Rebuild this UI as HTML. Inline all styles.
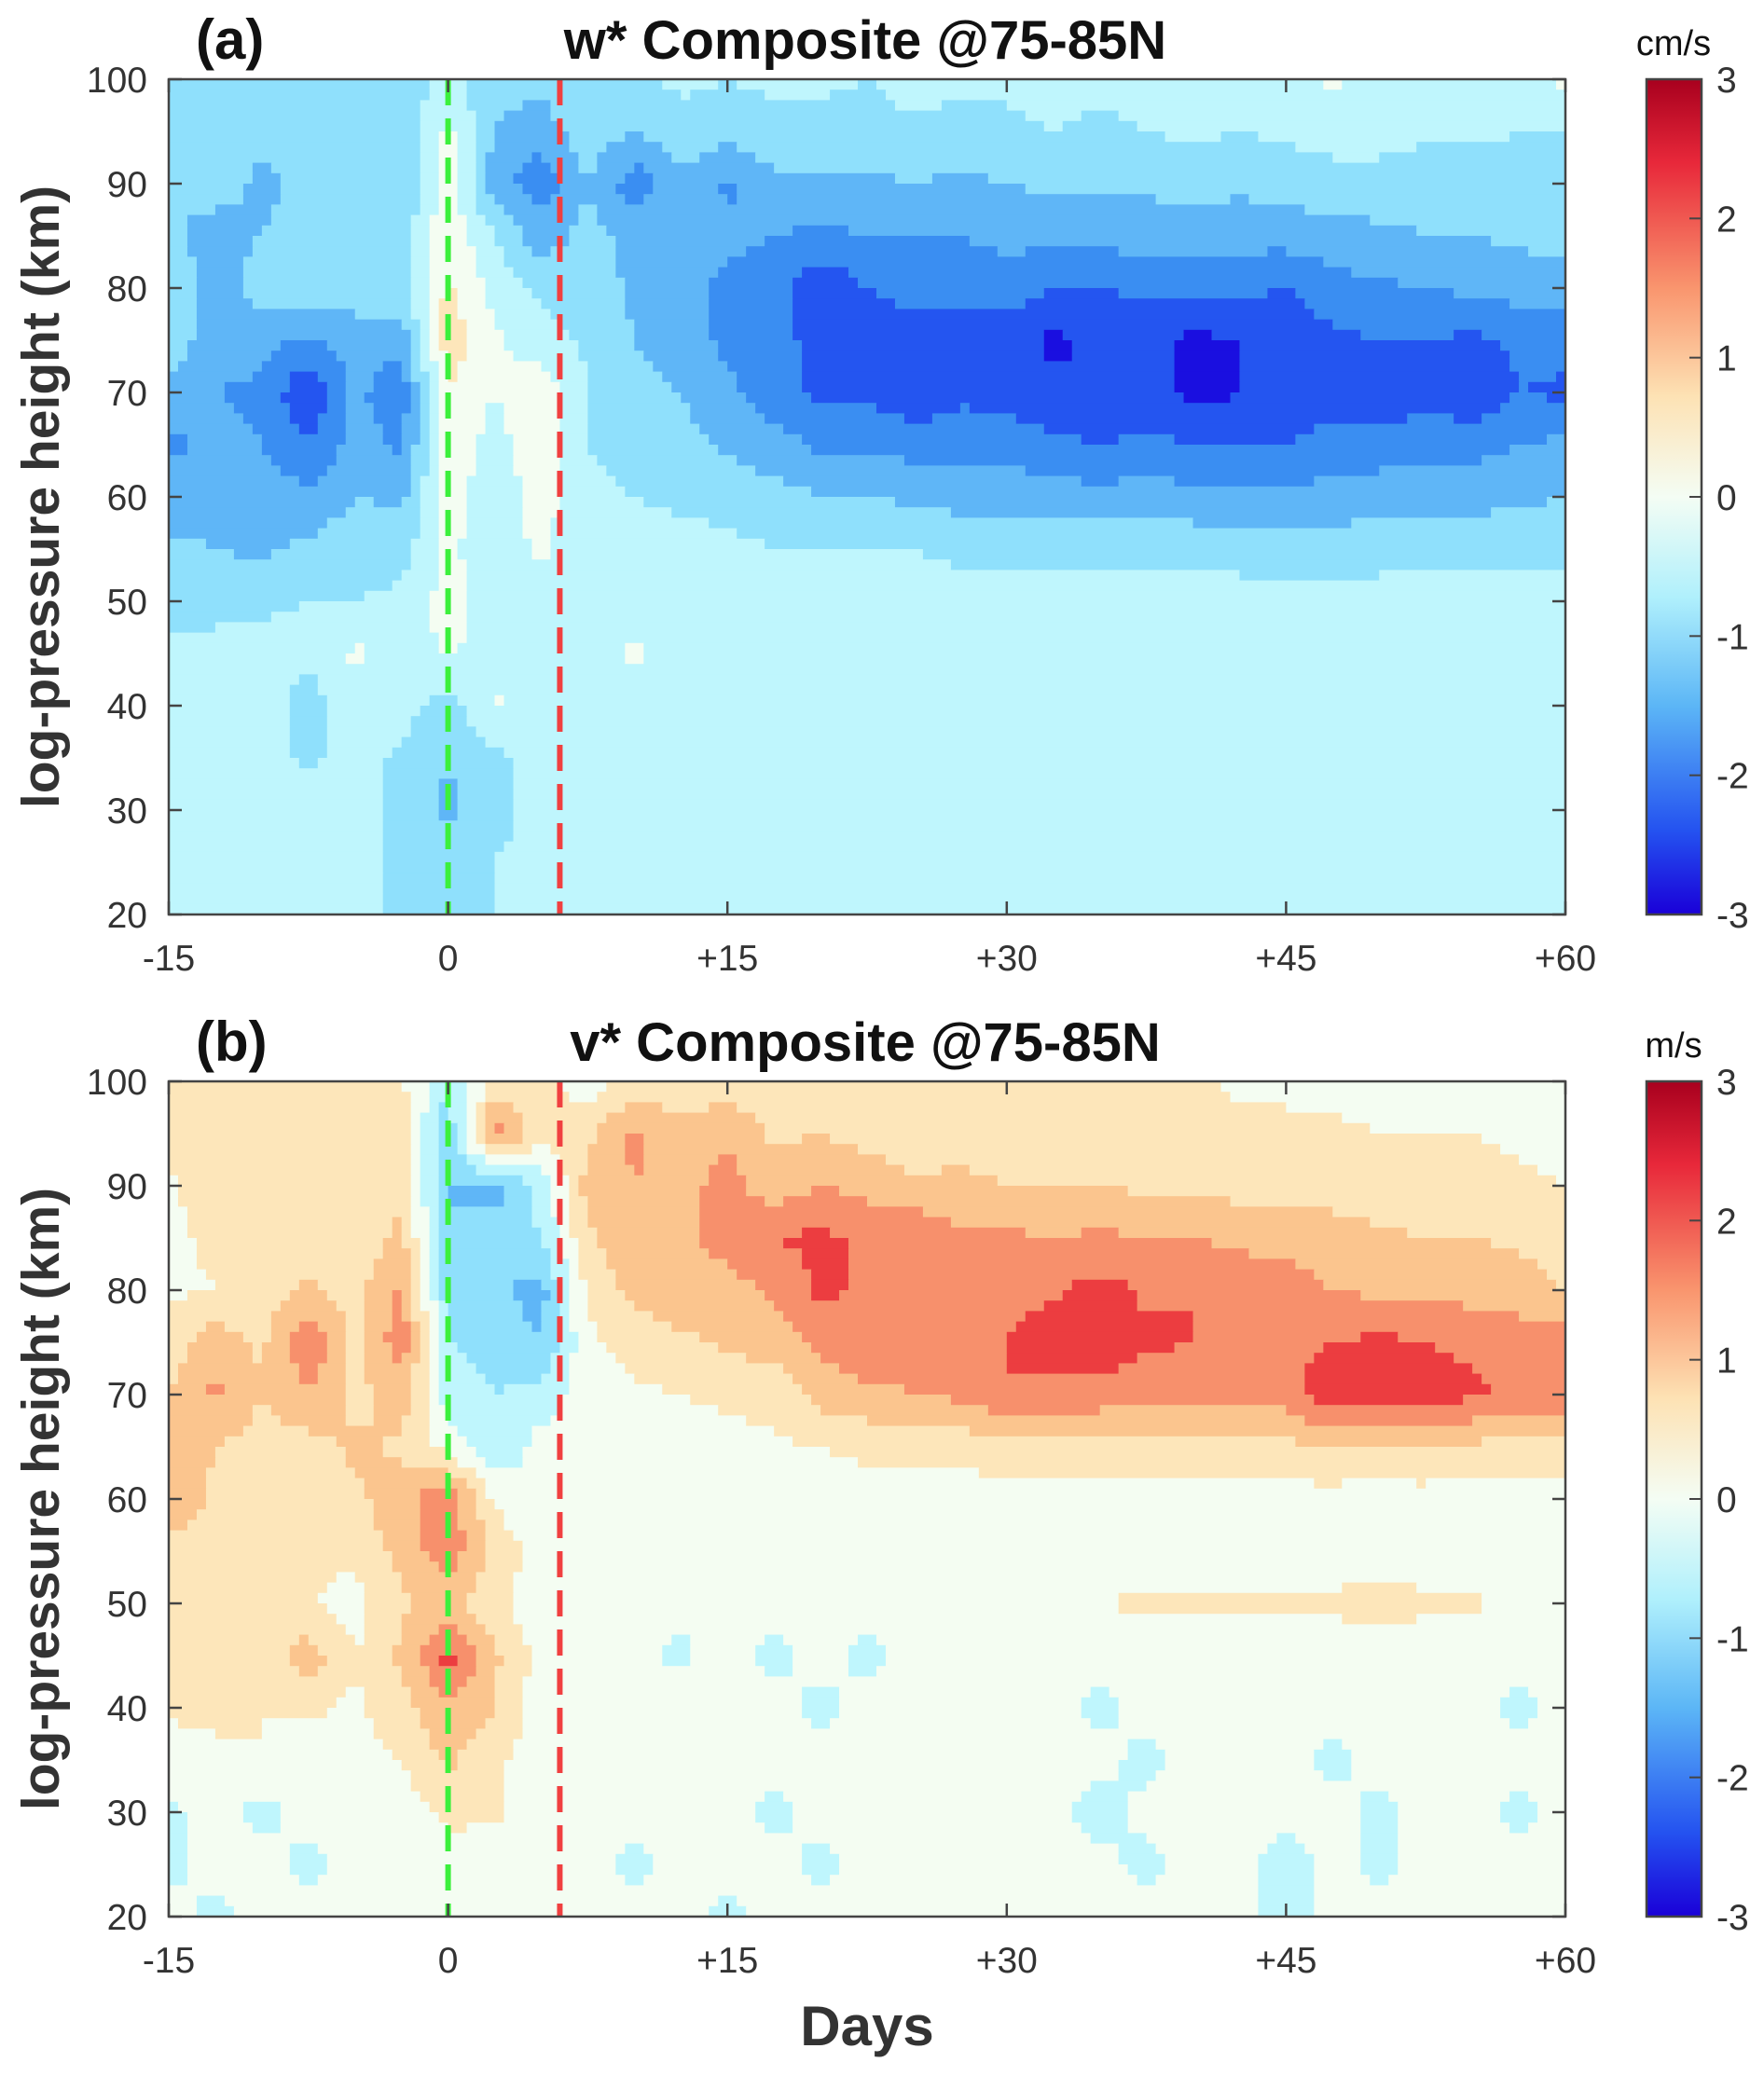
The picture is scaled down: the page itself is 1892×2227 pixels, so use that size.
<!DOCTYPE html>
<html><head><meta charset="utf-8">
<style>
body{margin:0;background:#fff;}
svg{display:block;font-family:"Liberation Sans",Arial,sans-serif;}
</style></head>
<body>
<svg id="fig" width="1892" height="2227" viewBox="0 0 1892 2227">
<defs>
<linearGradient id="cbar" x1="0" y1="0" x2="0" y2="1">
<stop offset="0" stop-color="#a8001e"/>
<stop offset="0.1" stop-color="#e8283a"/>
<stop offset="0.25" stop-color="#f9956e"/>
<stop offset="0.38" stop-color="#fde2b4"/>
<stop offset="0.5" stop-color="#f4fdf4"/>
<stop offset="0.62" stop-color="#b0f0fc"/>
<stop offset="0.75" stop-color="#5cb6f6"/>
<stop offset="0.9" stop-color="#2452f0"/>
<stop offset="1" stop-color="#1a00d8"/>
</linearGradient>
</defs>
</svg>
<script>
const days=[-15,-12.5,-10,-7.5,-5,-2.5,0,2.5,5,7.5,10,12.5,15,17.5,20,22.5,25,27.5,30,32.5,35,37.5,40,42.5,45,47.5,50,52.5,55,57.5,60];
const heights=[100,95,90,85,80,75,70,65,60,55,50,45,40,35,30,25,20];
const wData=[
[-.7,-.7,-.8,-.5,-.7,-.8,-.3,-.9,-.8,-.5,-.6,-.4,-.5,-.4,-.4,-.5,-.3,-.4,-.4,-.3,-.4,-.3,-.3,-.3,-.2,.1,-.2,-.2,-.3,-.2,.1],
[-.8,-.7,-.9,-.8,-.8,-.9,.1,-1.0,-1.3,-.7,-1.0,-.7,-.8,-.7,-.7,-.7,-.6,-.7,-.6,-.5,-.6,-.5,-.4,-.5,-.4,-.3,-.3,-.4,-.4,-.5,-.5],
[-1,-.8,-1.1,-.9,-1,-1,.3,-1.3,-1.8,-1,-1.8,-1.1,-1.6,-1.1,-1.1,-1.1,-1,-1.1,-1,-.9,-.9,-.9,-.8,-.9,-.8,-.7,-.7,-.8,-.8,-.7,-.6],
[-.9,-1.2,-1,-.8,-1,-.8,.4,-.5,-1.3,-.8,-1.2,-1.1,-1.4,-1.5,-1.6,-1.5,-1.5,-1.5,-1.3,-1.4,-1.3,-1.3,-1.3,-1.3,-1.3,-1.2,-1.1,-1.0,-1.0,-.9,-.8],
[-.5,-1.3,-.7,-.6,-.8,-.6,.6,-.2,-.6,-.7,-1.1,-1.4,-1.6,-1.8,-2.4,-2.0,-1.8,-1.9,-1.8,-2.0,-2.0,-1.9,-1.9,-1.9,-2.0,-1.7,-1.6,-1.5,-1.4,-1.3,-1.2],
[-.6,-1.4,-1.3,-1.6,-1.2,-1.4,.8,.1,-.3,-.6,-1,-1.3,-1.6,-1.8,-2.2,-2.2,-2.3,-2.2,-2.2,-2.6,-2.4,-2.3,-2.6,-2.5,-2.4,-2.1,-2.0,-2.0,-2.1,-1.9,-1.8],
[-1.2,-1.5,-1.6,-2.5,-1.4,-1.8,.5,0,.3,-.5,-.8,-1.0,-1.4,-1.8,-2.1,-2.1,-2.4,-2.1,-2.2,-2.4,-2.5,-2.2,-2.7,-2.5,-2.4,-2.2,-2.4,-2.2,-2.4,-2.0,-2.1],
[-1.6,-1.4,-1.5,-2.0,-1.3,-1.6,.4,-.2,.4,-.5,-.7,-.8,-1.1,-1.3,-1.6,-1.6,-1.7,-1.7,-1.7,-1.9,-2.0,-1.9,-2.0,-2.0,-2.0,-1.8,-1.8,-1.7,-1.7,-1.5,-1.4],
[-1.3,-1.2,-1.2,-1.4,-1.0,-1.1,.2,-.3,.2,-.4,-.5,-.6,-.7,-.8,-1,-1,-1.1,-1.2,-1.2,-1.3,-1.3,-1.3,-1.3,-1.4,-1.4,-1.3,-1.2,-1.2,-1.2,-1.1,-1.0],
[-.9,-1.0,-1.1,-.9,-.7,-.7,.1,-.3,.1,-.3,-.3,-.3,-.4,-.5,-.5,-.5,-.5,-.6,-.6,-.7,-.6,-.7,-.7,-.7,-.8,-.8,-.7,-.7,-.7,-.6,-.6],
[-.8,-.6,-.6,-.5,-.5,-.4,.2,-.2,-.2,-.3,-.2,-.3,-.3,-.3,-.3,-.3,-.3,-.3,-.3,-.3,-.3,-.3,-.3,-.3,-.3,-.3,-.3,-.3,-.3,-.3,-.3],
[-.3,-.4,-.3,-.4,.1,-.3,.1,-.3,-.2,-.3,.1,-.3,-.3,-.3,-.3,-.3,-.3,-.3,-.3,-.3,-.3,-.3,-.3,-.3,-.3,-.3,-.3,-.3,-.3,-.3,-.3],
[-.3,-.3,-.3,-.7,-.3,-.3,-.7,.1,-.3,-.3,-.3,-.3,-.3,-.3,-.3,-.3,-.3,-.3,-.3,-.3,-.3,-.3,-.3,-.3,-.3,-.3,-.3,-.3,-.3,-.3,-.3],
[-.3,-.3,-.3,-.6,-.3,-.6,-1.0,-.6,-.3,-.3,-.3,-.3,-.3,-.3,-.3,-.3,-.3,-.3,-.3,-.3,-.3,-.3,-.3,-.3,-.3,-.3,-.3,-.3,-.3,-.3,-.3],
[-.3,-.3,-.3,-.3,-.3,-.6,-1.1,-.7,-.3,-.3,-.3,-.3,-.3,-.3,-.3,-.3,-.3,-.3,-.3,-.3,-.3,-.3,-.3,-.3,-.3,-.3,-.3,-.3,-.3,-.3,-.3],
[-.3,-.3,-.3,-.3,-.3,-.6,-.8,-.5,-.3,-.3,-.3,-.3,-.3,-.3,-.3,-.3,-.3,-.3,-.3,-.3,-.3,-.3,-.3,-.3,-.3,-.3,-.3,-.3,-.3,-.3,-.3],
[-.3,-.3,-.3,-.3,-.3,-.6,-.8,-.5,-.3,-.3,-.3,-.3,-.3,-.3,-.3,-.3,-.3,-.3,-.3,-.3,-.3,-.3,-.3,-.3,-.3,-.3,-.3,-.3,-.3,-.3,-.3]
];
const vData=[
[.6,.7,.5,.6,.7,.6,-.5,.6,.7,.2,.7,.6,.7,.6,.7,.6,.5,.6,.6,.5,.7,.5,.6,.4,.4,.3,.3,.2,.3,.2,.2],
[.7,.6,.8,.7,.6,.7,-.8,1.8,.6,.9,1.6,1.2,1.4,.9,1.0,.8,.7,.8,.7,.8,.7,.7,.6,.6,.6,.6,.5,.5,.5,.4,.3],
[.4,.8,.5,.9,.6,.9,-1.0,-1.2,-.3,1.2,1.5,1.3,1.7,1.2,1.5,1.3,1.1,1.1,1.0,1.0,1.0,.9,.9,.8,.8,.8,.7,.7,.7,.6,.5],
[.4,.6,.5,.8,.7,1.1,-1.0,-.8,-.5,.9,1.5,1.4,1.7,2.0,2.1,1.9,2.0,1.6,1.6,1.5,1.6,1.5,1.5,1.4,1.3,1.2,1.1,1.0,1.0,.9,.8],
[.4,.5,.7,1.1,.8,1.6,-.8,-.9,-1.2,.6,1.2,1.3,1.3,1.6,2.1,1.9,2.0,1.7,1.8,1.9,2.2,1.9,2.0,1.8,1.8,1.5,1.4,1.4,1.3,1.2,1.0],
[.7,1.3,.9,1.9,.9,1.8,-.5,-.7,-1.0,.4,.7,.9,1.1,1.2,1.6,1.9,1.7,2.0,2.0,2.3,2.3,2.1,2.0,2.0,1.9,2.0,2.1,2.0,1.9,1.8,1.8],
[1.0,1.6,1.0,1.5,.8,1.3,-.3,-.5,-.3,.3,.4,.5,.6,.7,1.2,1.4,1.5,1.6,2.0,1.8,1.8,1.7,1.7,1.6,1.7,2.4,2.3,2.3,2.1,1.9,2.0],
[1.3,1.0,.8,.8,1.1,.9,.3,-.4,.2,.2,.3,.3,.3,.4,.5,.6,.7,.7,.8,.8,.8,.9,.8,.8,.9,1.0,1.0,1.0,.9,.8,.8],
[1.4,.9,.8,.6,.9,1.3,1.9,.4,0,.2,.3,.2,.3,.2,.2,.3,.3,.2,.3,.3,.3,.2,.3,.2,.3,.3,.2,.3,.2,.3,.2],
[.8,.7,.6,.7,.6,1.2,1.8,.9,.2,.2,.2,.2,.4,.2,.2,.3,.2,.2,.3,.2,.2,.2,.2,.2,.2,.2,.3,.2,.2,.2,.2],
[.6,.5,.6,.5,.3,.9,1.2,.6,.2,.2,.1,.1,.2,.2,.3,.2,.2,.2,.2,.3,.5,.6,.6,.6,.6,.6,.7,.6,.6,.2,.2],
[.5,.6,.5,1.3,.5,1.1,2.2,1.1,.3,.2,.1,-.1,.2,-.2,.2,-.2,.2,.2,.1,.2,.2,.2,.2,.2,.2,.2,.2,.2,.2,.2,.2],
[.6,.7,.5,.6,.4,.8,1.4,1.0,.2,.2,.2,.2,.2,.2,-.2,.2,.2,.2,.2,.2,-.2,.2,.2,.2,.2,.2,.2,.2,.2,-.2,.2],
[.2,.3,.5,.2,.4,.5,1.1,.6,.2,.2,.2,.4,.2,.2,.2,.2,.2,.2,.2,.2,.2,-.2,.2,.2,.2,-.2,.2,.2,.2,.2,.2],
[-.1,.2,-.2,.2,.2,.3,.6,.6,.1,.2,.2,.2,.2,-.2,.2,.2,.2,.2,.2,.2,-.3,.2,.2,.2,.2,.2,-.2,.2,.2,-.2,.2],
[-.2,.2,.2,-.2,.2,.2,.3,.2,.2,.2,-.2,.2,.2,.2,-.2,.2,.2,.2,.2,.2,.2,-.2,.2,.2,-.3,.2,-.2,.2,.2,.2,.2],
[.2,-.2,.2,.2,.2,.2,.2,.2,.2,.2,.2,.2,-.2,.2,.2,.2,.2,.2,.2,.2,.2,.2,.2,.2,-.2,.2,.2,.2,.2,.2,.2]
];
const xTickVals=[-15,0,15,30,45,60];
const xTickLabels=["-15","0","+15","+30","+45","+60"];
const yTickVals=[100,90,80,70,60,50,40,30,20];
const cbTickVals=[3,2,1,0,-1,-2,-3];
const onsetDay=0, endDay=6;

const NS="http://www.w3.org/2000/svg";
const svg=document.getElementById('fig');
const X0=181,X1=1679;
const panels=[{top:85,bot:981,data:wData,label:"(a)",title:"w* Composite @75-85N",unit:"cm/s",key:"w"},
              {top:1160,bot:2056,data:vData,label:"(b)",title:"v* Composite @75-85N",unit:"m/s",key:"v"}];
const colors=["#1a0fe0","#2455f0","#3a8ef2","#5fb6f7","#8fe0fc","#bff6fd","#f4fdf2","#fde6ba","#fbc58e","#f7906c","#ec3d40","#bf0e2a"];
function colorOf(v){let k=Math.floor((v+3)/0.5);if(k<0)k=0;if(k>11)k=11;return colors[k];}
function el(tag,attrs,parent){const e=document.createElementNS(NS,tag);for(const a in attrs)e.setAttribute(a,attrs[a]);(parent||svg).appendChild(e);return e;}
function interp(data,d,h){
  let fi=(d-days[0])/(days[1]-days[0]);let fj=(heights[0]-h)/(heights[0]-heights[1]);
  fi=Math.max(0,Math.min(days.length-1.0001,fi));fj=Math.max(0,Math.min(heights.length-1.0001,fj));
  const i=Math.floor(fi),j=Math.floor(fj),a=fi-i,b=fj-j;
  return data[j][i]*(1-a)*(1-b)+data[j][i+1]*a*(1-b)+data[j+1][i]*(1-a)*b+data[j+1][i+1]*a*b;
}
panels.forEach((p,pi)=>{
  const xs=d=>X0+(d+15)/75*(X1-X0);
  const ys=h=>p.top+(100-h)/80*(p.bot-p.top);
  const g=el('g',{});
  
  
  const NX=150,NY=80;
  const cw=(X1-X0)/NX,ch=(p.bot-p.top)/NY;
  for(let r=0;r<NY;r++){
    const h=100-(r+0.5)*80/NY;
    let start=0,cur=null;
    for(let c=0;c<=NX;c++){
      let col=null;
      if(c<NX){const d=-15+(c+0.5)*75/NX;col=colorOf(interp(p.data,d,h));}
      if(col!==cur){
        if(cur!==null){
          const rc=el('rect',{x:(X0+start*cw).toFixed(2),y:(p.top+r*ch).toFixed(2),width:((c-start)*cw+0.6).toFixed(2),height:(ch+0.6).toFixed(2),fill:cur},g);
          
          
        }
        cur=col;start=c;
      }
    }
  }
  const gl=el('line',{x1:xs(onsetDay),x2:xs(onsetDay),y1:p.top,y2:p.bot,stroke:"#3cf03c","stroke-width":6,"stroke-dasharray":"28 14"});
  
  
  const rl=el('line',{x1:xs(endDay),x2:xs(endDay),y1:p.top,y2:p.bot,stroke:"#f04040","stroke-width":6,"stroke-dasharray":"28 14"});
  
  
  const fr=el('rect',{x:X0,y:p.top,width:X1-X0,height:p.bot-p.top,fill:"none",stroke:"#444","stroke-width":2.5});
  
  
  yTickVals.forEach(v=>{
    const y=ys(v);
    el('line',{x1:X0,x2:X0+14,y1:y,y2:y,stroke:"#444","stroke-width":2.5});
    el('line',{x1:X1,x2:X1-14,y1:y,y2:y,stroke:"#444","stroke-width":2.5});
    const t=el('text',{x:158,y:y+14,"text-anchor":"end","font-size":39,fill:"#333"});
    t.textContent=v;
    
    
  });
  xTickVals.forEach((v,i)=>{
    const x=xs(v);
    el('line',{x1:x,x2:x,y1:p.bot,y2:p.bot-14,stroke:"#444","stroke-width":2.5});
    el('line',{x1:x,x2:x,y1:p.top,y2:p.top+14,stroke:"#444","stroke-width":2.5});
    const t=el('text',{x:x,y:p.bot+60,"text-anchor":"middle","font-size":39,fill:"#333"});
    t.textContent=xTickLabels[i];
    
    
  });
  const lb=el('text',{x:210,y:p.top-22,"font-size":60,"font-weight":"bold",fill:"#111"});
  lb.textContent=p.label;
  
  
  const tt=el('text',{x:928,y:p.top-22,"text-anchor":"middle","font-size":58,"font-weight":"bold",fill:"#111"});
  tt.textContent=p.title;
  
  
  const yl=el('text',{x:0,y:0,"text-anchor":"middle","font-size":57,"font-weight":"bold",fill:"#333",transform:`translate(63,${(p.top+p.bot)/2}) rotate(-90)`});
  yl.textContent="log-pressure height (km)";
  
  
  const cb=el('rect',{x:1766,y:p.top,width:59,height:p.bot-p.top,fill:"url(#cbar)",stroke:"#444","stroke-width":2.5});
  
  
  cbTickVals.forEach(v=>{
    const y=p.top+(3-v)/6*(p.bot-p.top);
    el('line',{x1:1812,x2:1825,y1:y,y2:y,stroke:"#444","stroke-width":2});
    const t=el('text',{x:1841,y:y+14,"font-size":39,fill:"#333"});
    t.textContent=v;
    
    
  });
  const un=el('text',{x:1795,y:p.top-26,"text-anchor":"middle","font-size":38,fill:"#111"});
  un.textContent=p.unit;
  
  
});
const xl=el('text',{x:930,y:2194,"text-anchor":"middle","font-size":60,"font-weight":"bold",fill:"#333"});
xl.textContent="Days";


</script>
</body></html>
